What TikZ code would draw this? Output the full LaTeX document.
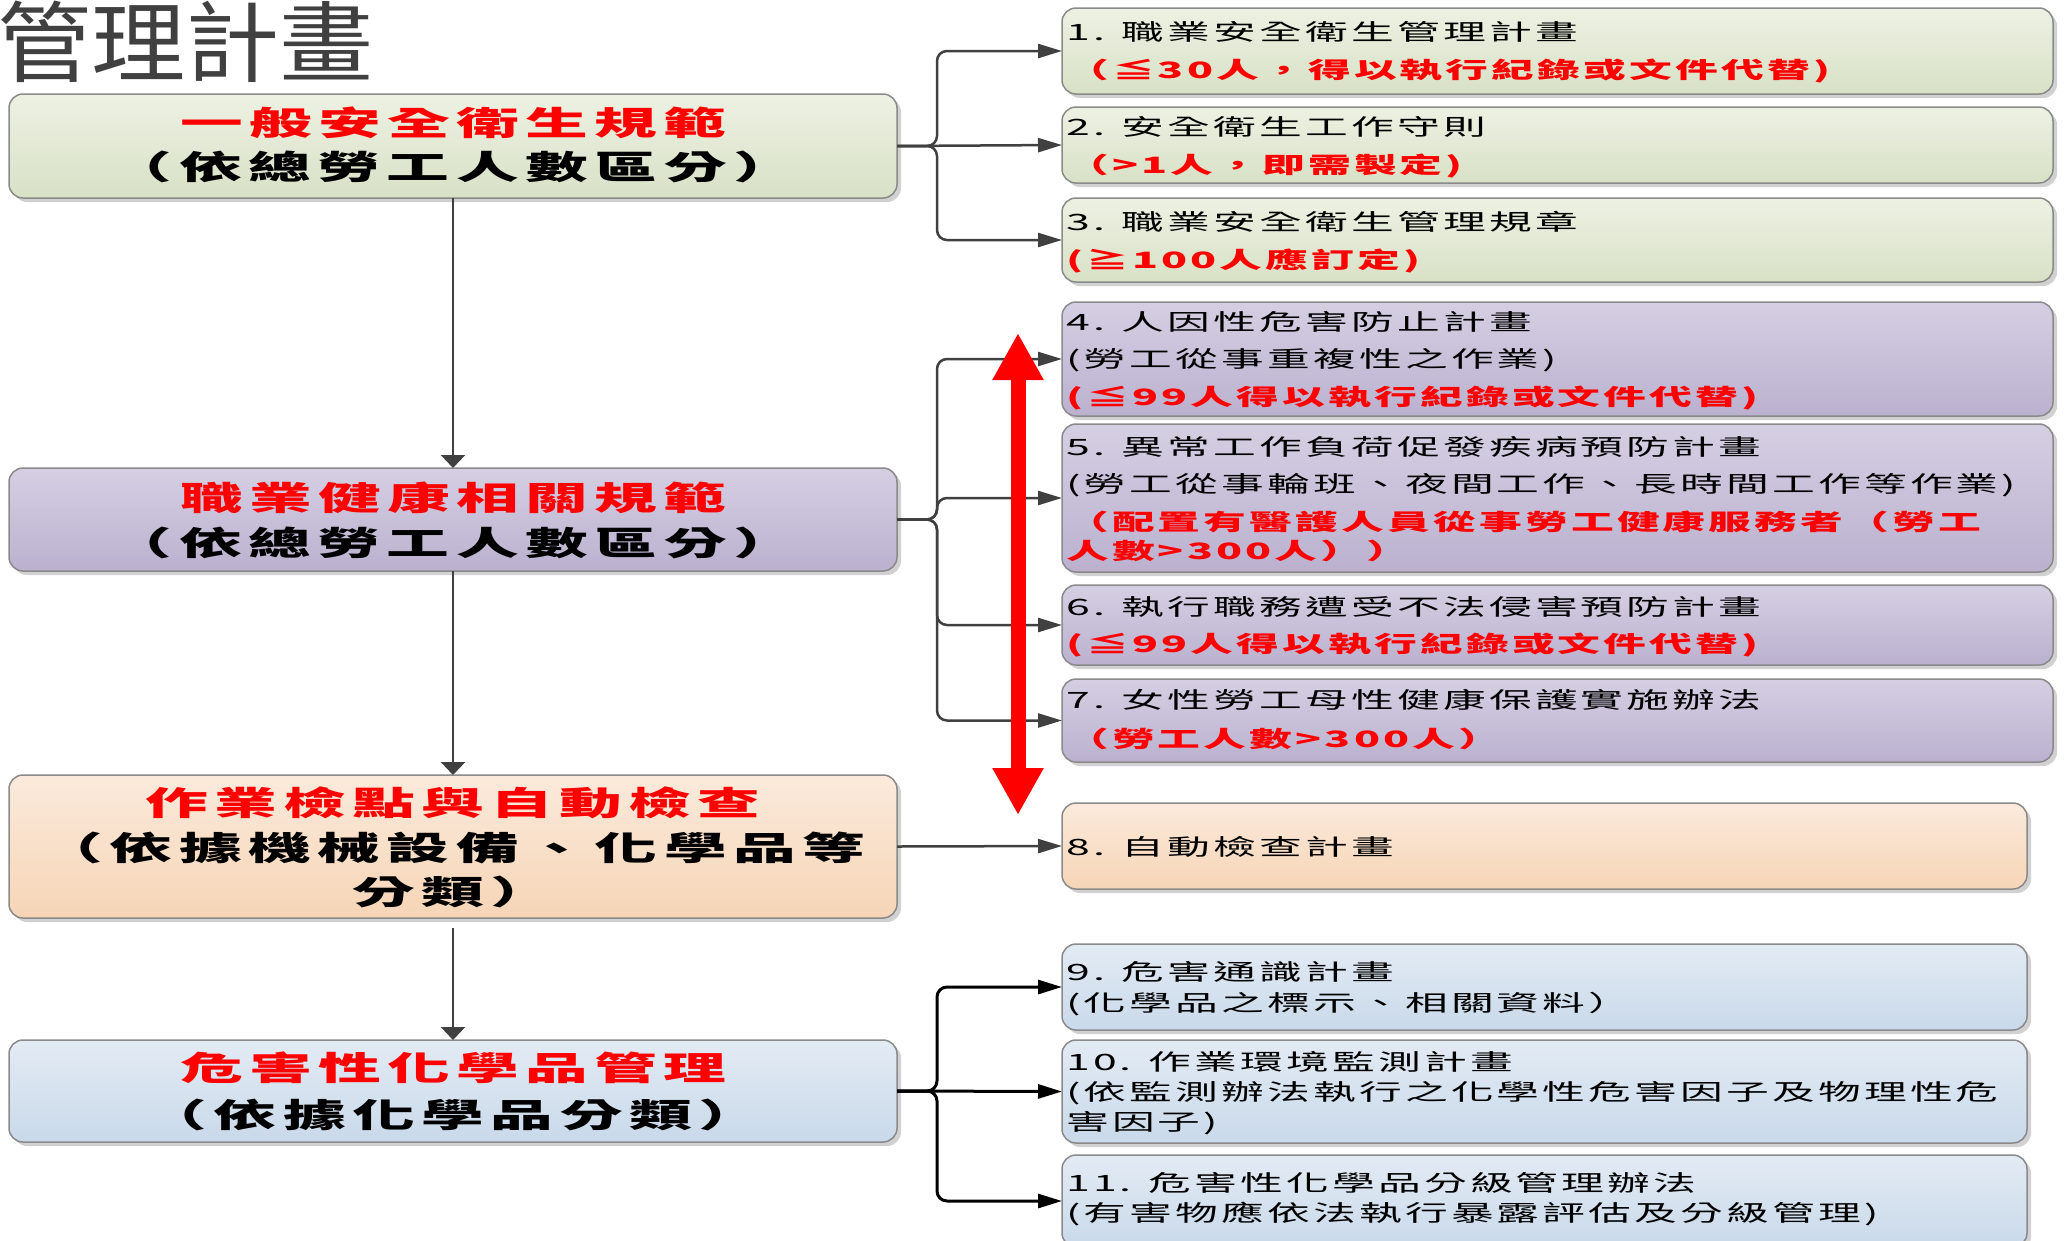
\documentclass[tikz,border=0pt]{standalone}
\usepackage{fontspec}
\usetikzlibrary{arrows.meta,shadows}
\newfontfamily\cjkR[FakeStretch=1.9,LetterSpace=14]{Noto Sans CJK TC}
\newfontfamily\cjkLt[FakeStretch=1.9,LetterSpace=19]{Noto Sans CJK TC}
\newfontfamily\cjkLs[FakeStretch=1.9,LetterSpace=20]{Noto Sans CJK TC}
\newfontfamily\cjkTitle[FakeStretch=1.07]{Noto Sans CJK TC}
\definecolor{gTop}{HTML}{EDF1E3}
\definecolor{gBot}{HTML}{D8E1C6}
\definecolor{pTop}{HTML}{D5CFE3}
\definecolor{pBot}{HTML}{BBB1CF}
\definecolor{oTop}{HTML}{FBEADC}
\definecolor{oBot}{HTML}{F6D5B6}
\definecolor{bTop}{HTML}{E3EBF4}
\definecolor{bBot}{HTML}{C9D9EA}
\definecolor{boxline}{HTML}{8A8A8A}
\definecolor{conngray}{HTML}{404040}
\definecolor{titlegray}{HTML}{404040}
\begin{document}
\begin{tikzpicture}[x=1pt,y=-1pt,
  box/.style={draw=boxline, line width=1.5pt, rounded corners=14pt, inner sep=0pt, outer sep=0pt,
    drop shadow={shadow xshift=4pt,shadow yshift=-4pt,fill=black,opacity=0.18}},
  gbox/.style={box, top color=gTop, bottom color=gBot},
  pbox/.style={box, top color=pTop, bottom color=pBot},
  obox/.style={box, top color=oTop, bottom color=oBot},
  bbox/.style={box, top color=bTop, bottom color=bBot},
  lbox/.style={minimum width=888pt},
  rbox/.style={minimum width=991pt},
  rboxs/.style={minimum width=965pt},
  rtext/.style={anchor=base west, inner sep=0pt, font=\cjkR\fontsize{22.5}{27}\selectfont},
  rred/.style={anchor=base west, inner sep=0pt, text=red, font=\cjkR\bfseries\fontsize{22.5}{27}\selectfont},
  ltitle/.style={anchor=base, inner sep=0pt, text=red, font=\cjkLt\bfseries\fontsize{33}{40}\selectfont},
  lsub/.style={anchor=base, inner sep=0pt, font=\cjkLs\bfseries\fontsize{33}{40}\selectfont},
  conn/.style={draw=conngray, line width=2.5pt, rounded corners=10pt, -{Triangle[length=24pt,width=14pt]}},
  connD/.style={draw=black, line width=3pt, rounded corners=10pt, -{Triangle[length=24pt,width=14pt]}},
  vconn/.style={draw=conngray, line width=2.5pt, -{Triangle[length=13pt,width=24pt]}},
  redarrow/.style={draw=red, line width=15pt, {Triangle[length=47pt,width=48pt]}-{Triangle[length=47pt,width=48pt]}}
]
\useasboundingbox (0,0) rectangle (2066,1240);

% title
\node[anchor=base west, inner sep=0pt, text=titlegray, font=\cjkTitle\fontsize{88}{96}\selectfont] (title) at (-3,75) {管理計畫};

% left boxes
\node[gbox, lbox, minimum height=104pt] (A) at (453,146) {};
\node[pbox, lbox, minimum height=103pt] (B) at (453,519.5) {};
\node[obox, lbox, minimum height=143pt] (C) at (453,846.5) {};
\node[bbox, lbox, minimum height=102pt] (D) at (453,1091) {};

\node[ltitle] (A1) at (453,135.5) {一般安全衛生規範};
\node[lsub] (A2) at (453,179.5) {（依總勞工人數區分）};
\node[ltitle] (B1) at (453,510.5) {職業健康相關規範};
\node[lsub] (B2) at (453,555.5) {（依總勞工人數區分）};
\node[ltitle] (C1) at (453,815.5) {作業檢點與自動檢查};
\node[lsub] (C2) at (453,860.5) {（依據機械設備、化學品等};
\node[lsub] (C3) at (453,904.5) {分類）};
\node[ltitle] (D1) at (453,1080.5) {危害性化學品管理};
\node[lsub] (D2) at (453,1127.5) {（依據化學品分類）};

% right boxes
\node[gbox, rbox, minimum height=86pt] (b1) at (1557.5,51) {};
\node[gbox, rbox, minimum height=76pt] (b2) at (1557.5,145) {};
\node[gbox, rbox, minimum height=84pt] (b3) at (1557.5,240) {};
\node[pbox, rbox, minimum height=114pt] (b4) at (1557.5,359) {};
\node[pbox, rbox, minimum height=148pt] (b5) at (1557.5,498) {};
\node[pbox, rbox, minimum height=80pt] (b6) at (1557.5,625) {};
\node[pbox, rbox, minimum height=83pt] (b7) at (1557.5,720.5) {};
\node[obox, rboxs, minimum height=86pt] (b8) at (1544.5,846) {};
\node[bbox, rboxs, minimum height=86pt] (b9) at (1544.5,987) {};
\node[bbox, rboxs, minimum height=103pt] (b10) at (1544.5,1091.5) {};
\node[bbox, rboxs, minimum height=92pt] (b11) at (1544.5,1201) {};

% right texts
\node[rtext] (t1a) at (1066,40.5) {1. 職業安全衛生管理計畫};
\node[rred] (t1b) at (1066,78.5) {（≦30人，得以執行紀錄或文件代替)};
\node[rtext] (t2a) at (1066,135.5) {2. 安全衛生工作守則};
\node[rred] (t2b) at (1066,173.5) {（>1人，即需製定)};
\node[rtext] (t3a) at (1066,230.5) {3. 職業安全衛生管理規章};
\node[rred] (t3b) at (1066,268.5) {(≧100人應訂定)};
\node[rtext] (t4a) at (1066,330.5) {4. 人因性危害防止計畫};
\node[rtext] (t4b) at (1066,367.5) {(勞工從事重複性之作業)};
\node[rred] (t4c) at (1066,405.5) {(≦99人得以執行紀錄或文件代替)};
\node[rtext] (t5a) at (1066,455.5) {5. 異常工作負荷促發疾病預防計畫};
\node[rtext] (t5b) at (1066,492.5) {(勞工從事輪班、夜間工作、長時間工作等作業)};
\node[rred] (t5c) at (1066,530.5) {（配置有醫護人員從事勞工健康服務者（勞工};
\node[rred] (t5d) at (1066,559.5) {人數>300人））};
\node[rtext] (t6a) at (1066,615.5) {6. 執行職務遭受不法侵害預防計畫};
\node[rred] (t6b) at (1066,652.5) {(≦99人得以執行紀錄或文件代替)};
\node[rtext] (t7a) at (1066,708.5) {7. 女性勞工母性健康保護實施辦法};
\node[rred] (t7b) at (1066,747.5) {（勞工人數>300人）};
\node[rtext] (t8a) at (1066,855.5) {8. 自動檢查計畫};
\node[rtext] (t9a) at (1066,980.5) {9. 危害通識計畫};
\node[rtext] (t9b) at (1066,1011.5) {(化學品之標示、相關資料）};
\node[rtext] (t10a) at (1066,1070.5) {10. 作業環境監測計畫};
\node[rtext] (t10b) at (1066,1100.5) {(依監測辦法執行之化學性危害因子及物理性危};
\node[rtext] (t10c) at (1066,1130.5) {害因子)};
\node[rtext] (t11a) at (1066,1191.5) {11. 危害性化學品分級管理辦法};
\node[rtext] (t11b) at (1066,1221.5) {(有害物應依法執行暴露評估及分級管理)};

% vertical connectors
\draw[vconn] (A.south) -- (B.north);
\draw[vconn] (B.south) -- (C.north);
\draw[vconn] ([yshift=-10pt]C.south) -- (D.north);

% branch connectors
\draw[conn] (A.east) -- ++(40,0) |- (b1.west);
\draw[conn] (A.east) -- (b2.west);
\draw[conn] (A.east) -- ++(40,0) |- (b3.west);
\draw[conn] (B.east) -- ++(40,0) |- (b4.west);
\draw[conn] (B.east) -- ++(40,0) |- (b5.west);
\draw[conn] (B.east) -- ++(40,0) |- (b6.west);
\draw[conn] (B.east) -- ++(40,0) |- (b7.west);
\draw[conn] (C.east) -- (b8.west);
\draw[connD] (D.east) -- ++(40,0) |- (b9.west);
\draw[connD] (D.east) -- (b10.west);
\draw[connD] (D.east) -- ++(40,0) |- (b11.west);

% red double arrow
\coordinate (rtop) at (1018,333);
\coordinate (rbot) at (1018,815);
\draw[redarrow] (rtop) -- (rbot);
\end{tikzpicture}
\end{document}
